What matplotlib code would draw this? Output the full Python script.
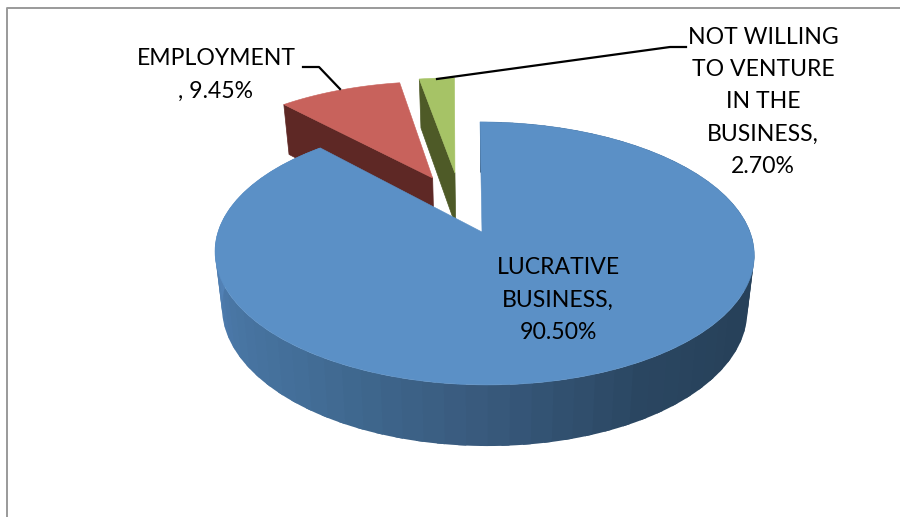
import numpy as np
import matplotlib
matplotlib.use("Agg")
import matplotlib.pyplot as plt
from matplotlib.colors import to_rgb
from matplotlib.patches import Polygon

categories = ["LUCRATIVE\nBUSINESS,\n", "EMPLOYMENT\n, ", "NOT WILLING\nTO VENTURE\nIN THE\nBUSINESS,\n"]
shares = [90.50, 9.45, 2.70]

top_colors = ["#5B90C6", "#C8625C", "#A6C366"]
wall_colors = ["#27415A", "#5E2825", "#4E5A27"]
# how far each slice is pulled out, as (across, back) in pie radii
explode = [(0.0, 0.0), (-0.20, 0.453), (-0.11, 0.498)]

# camera set-up for the tilted disc, in pixels
cx, cy = 484, 232
rx, ry = 266, 128
persp = 0.163
shear = 4
depth_drop = 55
depth_sx, depth_sy = 0.974, 1.04

# shading round the rim of the big slice: clock angle -> colour
rim_angles = [80, 120, 150, 180, 215, 245, 270, 320]
rim_colors = ["#27415A", "#27415A", "#2A4661", "#38597C", "#426D96", "#4A77A6", "#5383B8", "#5383B8"]


def project(u, v, lower=False):
    d = 1 + persp * v
    x = rx * u / d - shear * v
    y = ry * v / d
    if lower:
        return cx + depth_sx * x, cy + depth_drop - depth_sy * y
    return cx + x, cy - y


def slice_points(a0, a1, off, lower=False):
    t = np.radians(np.linspace(a0, a1, 200))
    u = np.r_[off[0], off[0] + np.sin(t)]
    v = np.r_[off[1], off[1] + np.cos(t)]
    return np.column_stack(project(u, v, lower))


def rim_color(a):
    rgb = np.array([to_rgb(c) for c in rim_colors])
    return [np.interp(a, rim_angles, rgb[:, i]) for i in range(3)]


fig = plt.figure(figsize=(9, 5.17), dpi=100)
ax = fig.add_axes([0, 0, 1, 1])
ax.set_xlim(0, 900)
ax.set_ylim(517, 0)
ax.axis("off")

# chart frame, only the left and top sides are in view
ax.plot([6.5, 6.5, 900], [530, 7.5, 7.5], color="#9A9A9A", lw=1.4, zorder=0)

edges = np.r_[0, np.cumsum(shares)] / sum(shares) * 360

# draw back to front: pulled out slices first, the big slice over them
for i in [1, 2, 0]:
    a0, a1 = edges[i], edges[i + 1]
    off = explode[i]
    if i == 0:
        # rim made of overlapping bands so no seams show between shades
        for s in np.arange(a0, a1, 4.0):
            t = np.radians(np.linspace(s, min(s + 5.5, a1), 5))
            u, v = np.sin(t), np.cos(t)
            upper = np.column_stack(project(u, v))
            lower = np.column_stack(project(u, v, True))
            ax.add_patch(Polygon(np.r_[upper, lower[::-1]], fc=rim_color(s + 2), ec="none", zorder=3))
        # edge-on cut face next to the gap
        ax.plot(*zip(project(0, 0.5), project(0, 0)), color="#27415A", lw=0.9, zorder=3)
    else:
        # cut face on the left edge of the slice
        t = np.radians(a0)
        ends = [(off[0], off[1]), (off[0] + np.sin(t), off[1] + np.cos(t))]
        upper = [project(*e) for e in ends]
        lower = [project(*e, True) for e in ends]
        ax.add_patch(Polygon(upper + lower[::-1], fc=wall_colors[i], ec=wall_colors[i], lw=0.5, zorder=1 + i))
    pts = slice_points(a0, a1, off)
    if i == 0:
        pts[0, 0] -= 2  # centre point of the big slice sits a touch left
    ax.add_patch(Polygon(pts, fc=top_colors[i], ec=top_colors[i], lw=0.4, zorder=1.5 + i if i else 4))

ax.plot([303, 319, 340], [67, 67, 89], color="black", lw=1.6, zorder=6)
ax.plot([437, 670, 686], [79, 47, 47], color="black", lw=1.6, zorder=6)

font = dict(family="Lato", fontsize=16.6, color="black", ha="center", va="center",
            linespacing=1.65, zorder=7)
label_pos = [(558, 300), (216, 75), (763, 102)]
for name, val, (lx, ly) in zip(categories, shares, label_pos):
    ax.text(lx, ly, f"{name}{val:.2f}%", **font)

fig.savefig("out.png", dpi=100)
